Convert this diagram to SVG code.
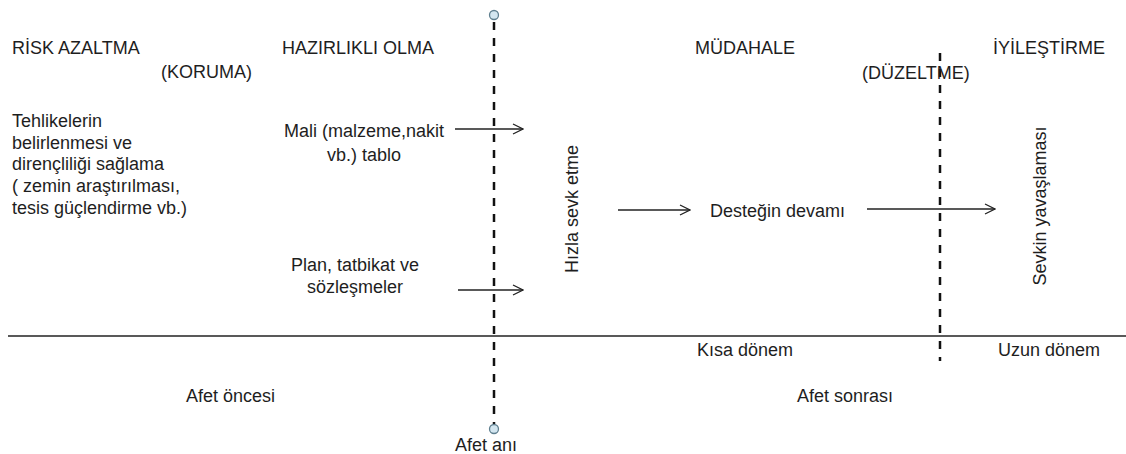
<svg xmlns="http://www.w3.org/2000/svg" width="1126" height="454" viewBox="0 0 1126 454">
<defs>
<style>
text{font-family:"Liberation Sans",Arial,sans-serif;font-size:18px;fill:#1e1e1e}
.m{text-anchor:middle}
.dash{stroke:#111;stroke-width:2.5;stroke-dasharray:8 8;fill:none}
.arr{stroke:#222;stroke-width:1.3;fill:none;marker-end:url(#ah)}
.pin{fill:#d3e6f0;stroke:#5f7f8f;stroke-width:1.3}
</style>
<marker id="ah" viewBox="0 0 12 12" refX="11" refY="6" markerWidth="12" markerHeight="12" markerUnits="userSpaceOnUse" orient="auto">
<path d="M1,1 L11,6 L1,11" fill="none" stroke="#222" stroke-width="1.3"/>
</marker>
</defs>
<rect width="1126" height="454" fill="#fff"/>
<g id="axes">
<line x1="8" y1="336" x2="1126" y2="336" stroke="#222" stroke-width="1.5"/>
<line class="dash" x1="494" y1="22" x2="494" y2="424"/>
<line class="dash" x1="940" y1="53" x2="940" y2="361"/>
<circle class="pin" cx="494" cy="15" r="4.5"/>
<circle class="pin" cx="494" cy="429" r="4.5"/>
</g>
<g id="connectors">
<line class="arr" x1="455" y1="129" x2="523" y2="129"/>
<line class="arr" x1="458" y1="290" x2="523" y2="290"/>
<line class="arr" x1="618" y1="210" x2="690" y2="210"/>
<line class="arr" x1="867" y1="209" x2="995" y2="209"/>
</g>
<g id="risk-azaltma">
<text x="12" y="54">RİSK AZALTMA</text>
<text x="161" y="78">(KORUMA)</text>
<text x="12" y="127">Tehlikelerin</text>
<text x="12" y="149">belirlenmesi ve</text>
<text x="12" y="170">dirençliliği sağlama</text>
<text x="12" y="192">( zemin araştırılması,</text>
<text x="12" y="214">tesis güçlendirme vb.)</text>
</g>
<g id="hazirlikli-olma">
<text x="282" y="54">HAZIRLIKLI OLMA</text>
<text class="m" x="364" y="137">Mali (malzeme,nakit</text>
<text class="m" x="364" y="161">vb.) tablo</text>
<text class="m" x="355" y="271">Plan, tatbikat ve</text>
<text class="m" x="355" y="293">sözleşmeler</text>
</g>
<g id="hizla-sevk">
<text class="m" transform="translate(578,209) rotate(-90)">Hızla sevk etme</text>
</g>
<g id="mudahale">
<text x="695" y="54">MÜDAHALE</text>
<text x="862" y="79">(DÜZELTME)</text>
<text x="710" y="217">Desteğin devamı</text>
</g>
<g id="iyilestirme">
<text x="993" y="54">İYİLEŞTİRME</text>
<text class="m" transform="translate(1046,206) rotate(-90)">Sevkin yavaşlaması</text>
</g>
<g id="periods">
<text x="697" y="356">Kısa dönem</text>
<text x="998" y="356">Uzun dönem</text>
<text x="186" y="402">Afet öncesi</text>
<text x="797" y="402">Afet sonrası</text>
<text class="m" x="486" y="451">Afet anı</text>
</g>
</svg>
